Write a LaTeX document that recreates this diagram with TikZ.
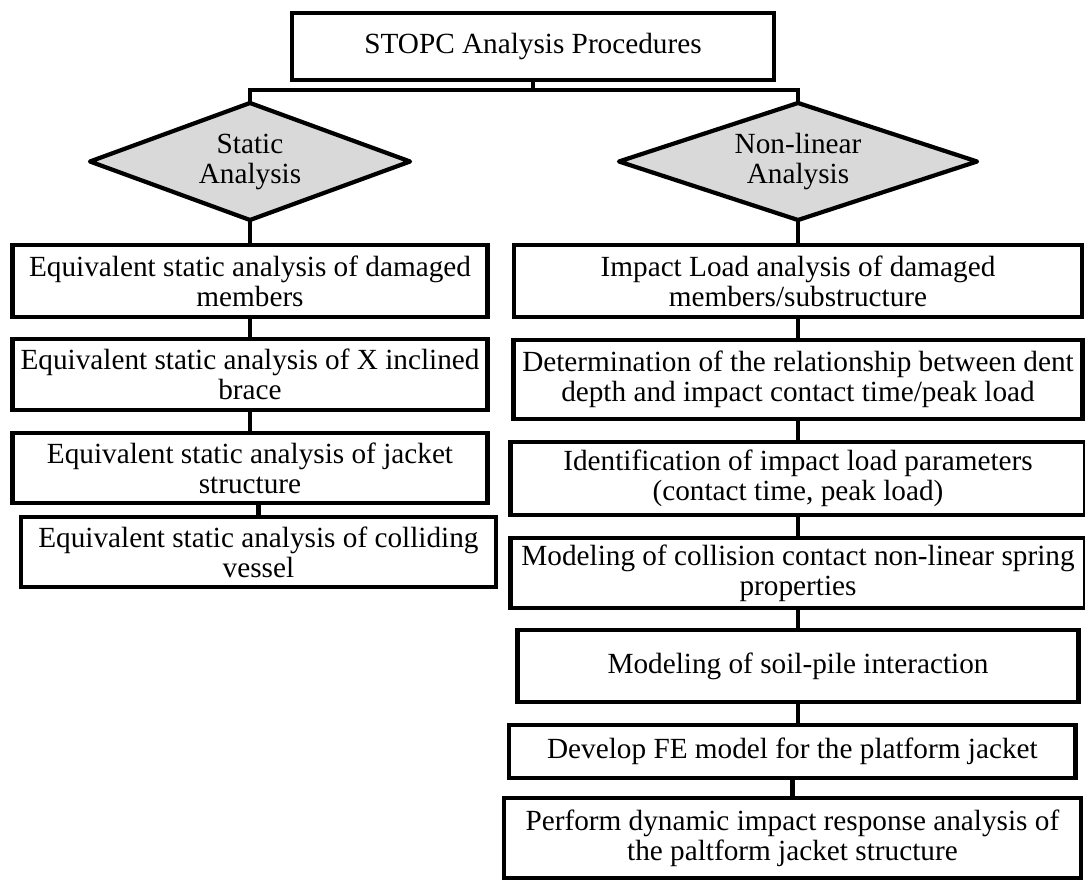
\documentclass[tikz,border=0pt]{standalone}
\usepackage{fontspec}
\setmainfont{Liberation Serif}
\usepackage{xcolor}
\usetikzlibrary{positioning,shapes.geometric,calc}
\definecolor{decgray}{HTML}{D9D9D9}

\begin{document}
\begin{tikzpicture}[
  x=0.025cm, y=-0.025cm,
  font=\fontsize{20.8pt}{21.3pt}\selectfont,
  box/.style={draw, line width=3pt, inner sep=2pt, outer sep=0pt, align=center,
              minimum height=1.8cm, minimum width=11.875cm},
  decision/.style={diamond, draw, line width=3pt, line join=round, fill=decgray,
                   inner sep=0pt, outer sep=0pt, align=center, minimum height=2.925cm},
  link/.style={line width=3pt}
]
\useasboundingbox (0,0) rectangle (1085,880);
\node[box, minimum width=12.05cm, minimum height=1.675cm] (top) at (533,46.5)
  {STOPC Analysis Procedures};
\coordinate (split) at (533,90);
\node[decision, aspect=2.73, minimum width=8cm] (static) at (250,161.5)
  {Static\\Analysis};
\node[decision, aspect=3.06, minimum width=8.95cm] (nonlin) at (798,161.5)
  {Non-linear\\Analysis};
\draw[link] (top.south) -- (split);
\draw[link] (split) -| (static.north);
\draw[link] (split) -| (nonlin.north);
% static branch
\node[box] (eqmem) at (250,281)
  {Equivalent static analysis of damaged\\members};
\node[box, minimum height=1.775cm, below=0.55cm of eqmem] (eqbrace)
  {Equivalent static analysis of X inclined\\brace};
\node[box, minimum height=1.75cm, below=0.575cm of eqbrace] (eqjacket)
  {Equivalent static analysis of jacket\\structure};
\node[box, minimum height=1.75cm, below=0.35cm of eqjacket, xshift=0.21cm] (eqvessel)
  {Equivalent static analysis of colliding\\vessel};
\draw[link] (static.south) -- (eqmem.north);
\draw[link] (eqmem.south) -- (eqbrace.north);
\draw[link] (eqbrace.south) -- (eqjacket.north);
\draw[link] (eqvessel.north |- eqjacket.south) -- (eqvessel.north);
% non-linear branch
\node[box, minimum width=14.2cm] (impact) at (798,281)
  {Impact Load analysis of damaged\\members/substructure};
\node[box, minimum width=14.225cm, minimum height=1.975cm, below=0.575cm of impact] (dent)
  {Determination of the relationship between dent\\depth and impact contact time/peak load};
\node[box, minimum width=14.375cm, minimum height=1.825cm, below=0.575cm of dent] (param)
  {Identification of impact load parameters\\(contact time, peak load)};
\node[box, minimum width=14.375cm, minimum height=1.75cm, below=0.575cm of param] (spring)
  {Modeling of collision contact non-linear spring\\properties};
\node[box, minimum width=14.025cm, below=0.55cm of spring] (soil)
  {Modeling of soil-pile interaction};
\node[box, minimum width=14.15cm, minimum height=1.325cm, below=0.575cm of soil, xshift=-0.14cm] (femodel)
  {Develop FE model for the platform jacket};
\node[box, minimum width=14.425cm, minimum height=2.0cm, below=0.5cm of femodel] (dynamic)
  {Perform dynamic impact response analysis of\\the paltform jacket structure};
\draw[link] (nonlin.south) -- (nonlin.south |- impact.north);
\draw[link] (impact.south) -- (impact.south |- dent.north);
\draw[link] (dent.south) -- (dent.south |- param.north);
\draw[link] (param.south) -- (param.south |- spring.north);
\draw[link] (spring.south) -- (spring.south |- soil.north);
\draw[link] (soil.south) -- (soil.south |- femodel.north);
\draw[link] (femodel.south) -- (femodel.south |- dynamic.north);
\end{tikzpicture}
\end{document}
